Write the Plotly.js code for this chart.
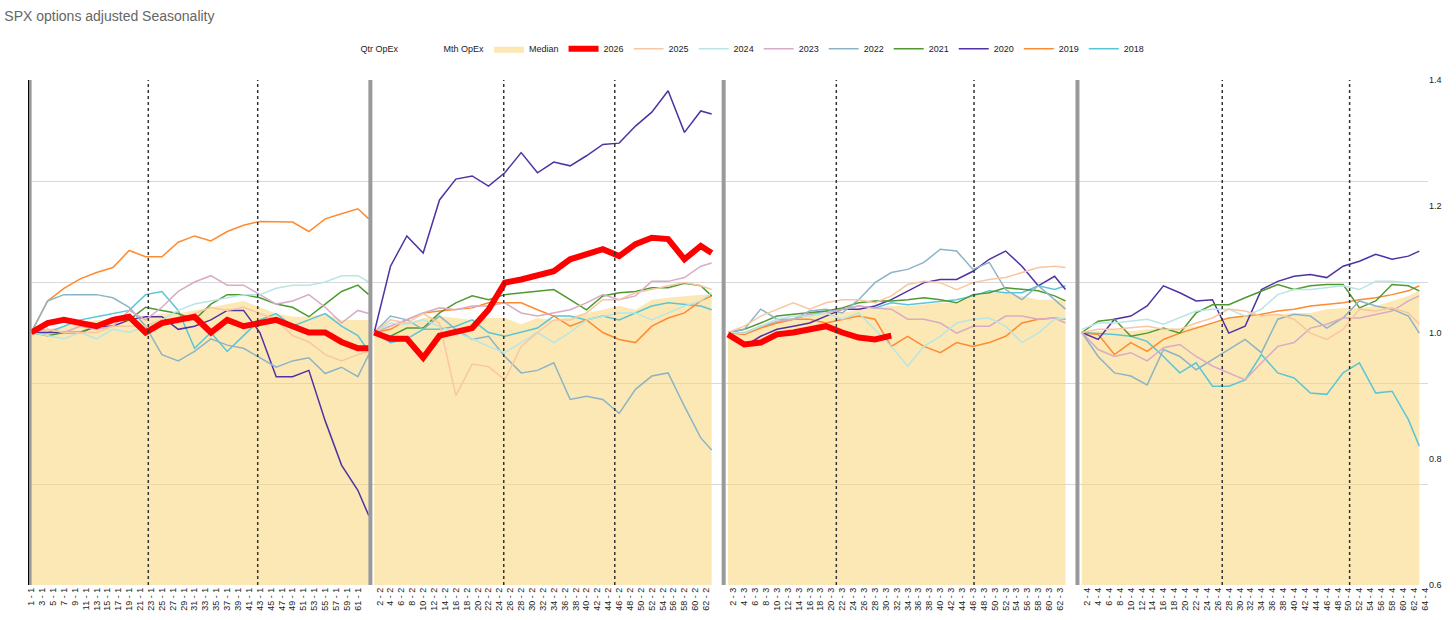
<!DOCTYPE html>
<html>
<head>
<meta charset="utf-8">
<script src="https://cdn.plot.ly/plotly-3.0.1.min.js"></script>
<style>body{margin:0;background:#fff}#chart{width:1456px;height:620px}</style>
</head>
<body>
<div id="chart"></div>
<script>
// sampled trading days inside each quarter
const days = [1,4,7,10,13,16,19,22,25,28,31,34,37,40,43,46,49,52,55,58,61,63];
const qOffset = [0, 63, 128, 193];
const qSuffix = ['1', '2', '3', '4'];

const median = [
  [1.0,1.005,1.01,1.015,1.02,1.02,1.025,1.025,1.03,1.03,1.035,1.04,1.045,1.05,1.04,1.03,1.025,1.025,1.03,1.02,1.02,1.02],
  [1.0,1.01,1.015,1.023,1.026,1.023,1.02,1.023,1.023,1.013,1.023,1.02,1.026,1.031,1.036,1.042,1.036,1.052,1.055,1.058,1.06,1.06],
  [1.0,1.002,1.01,1.018,1.023,1.026,1.031,1.031,1.037,1.039,1.042,1.042,1.044,1.047,1.047,1.058,1.063,1.063,1.058,1.052,1.052,1.052],
  [1.0,1.002,1.005,1.002,1.005,1.005,1.005,1.01,1.013,1.021,1.026,1.029,1.029,1.031,1.031,1.037,1.039,1.039,1.042,1.05,1.058,1.066]
];
const y2026 = [
  [1.0,1.015,1.02,1.015,1.01,1.02,1.025,1.0,1.015,1.02,1.025,1.0,1.02,1.01,1.015,1.02,1.01,1.0,1.0,0.985,0.975,0.975],
  [1.0,0.99,0.99,0.96,0.995,1.0,1.007,1.036,1.079,1.084,1.09,1.097,1.116,1.124,1.132,1.121,1.14,1.15,1.148,1.116,1.137,1.126],
  [0.997,0.981,0.984,0.997,1.0,1.005,1.01,1.0,0.992,0.989,0.995],
  []
];
const y2025 = [
  [1.0,1.005,1.0,1.0,1.0,1.01,1.01,1.01,1.02,1.015,1.03,1.04,1.035,1.04,1.03,1.02,0.995,0.985,0.965,0.955,0.965,0.97],
  [1.0,1.02,1.015,1.03,1.015,0.90,0.95,0.946,0.925,0.978,1.0,1.02,1.02,1.031,1.052,1.052,1.063,1.068,1.074,1.079,1.074,1.068],
  [1.0,1.01,1.026,1.037,1.047,1.037,1.047,1.052,1.052,1.047,1.058,1.076,1.081,1.079,1.068,1.079,1.084,1.087,1.095,1.103,1.105,1.103],
  [1.0,1.005,1.005,1.007,1.01,1.005,1.005,1.015,1.023,1.037,1.034,1.026,1.029,1.021,0.999,0.989,1.005,1.037,1.034,1.039,1.031,1.013]
];
const y2024 = [
  [1.0,0.995,0.99,1.0,0.99,1.005,1.0,1.01,1.02,1.035,1.045,1.05,1.055,1.06,1.06,1.07,1.075,1.075,1.08,1.09,1.09,1.08],
  [1.0,1.015,1.013,1.02,1.01,1.0,0.99,0.978,0.968,0.984,1.0,0.984,1.0,1.02,1.026,1.031,1.031,1.02,1.031,1.042,1.05,1.063],
  [1.0,0.999,1.01,1.021,1.026,1.026,1.031,1.021,1.031,1.005,0.978,0.947,0.978,0.994,1.015,1.021,1.023,1.01,0.984,0.999,1.021,1.023],
  [1.005,1.015,1.015,1.018,1.021,1.013,1.023,1.034,1.037,1.037,1.026,1.037,1.06,1.068,1.068,1.071,1.074,1.068,1.081,1.081,1.079,1.079]
];
const y2023 = [
  [1.0,1.005,1.0,1.01,1.005,1.01,1.035,1.02,1.04,1.065,1.08,1.09,1.075,1.075,1.06,1.045,1.05,1.06,1.04,1.015,1.035,1.03],
  [1.0,1.01,1.02,1.031,1.039,1.036,1.042,1.042,1.047,1.031,1.026,1.031,1.036,1.047,1.06,1.052,1.058,1.081,1.081,1.087,1.105,1.11],
  [1.0,0.999,1.01,1.018,1.021,1.029,1.031,1.037,1.042,1.039,1.037,1.021,1.021,1.015,0.999,1.01,1.01,1.026,1.026,1.021,1.023,1.015],
  [1.0,0.973,0.962,0.968,0.955,0.976,0.981,0.962,0.947,0.936,0.925,0.952,0.978,0.984,1.007,1.013,1.023,1.023,1.029,1.034,1.05,1.058]
];
const y2022 = [
  [1.0,1.05,1.06,1.06,1.06,1.055,1.04,1.01,0.965,0.955,0.97,0.99,0.98,0.975,0.96,0.945,0.955,0.96,0.935,0.945,0.93,0.965],
  [1.0,1.026,1.02,1.005,1.026,1.005,0.989,0.994,0.962,0.936,0.94,0.952,0.894,0.899,0.894,0.872,0.91,0.931,0.936,0.883,0.833,0.814],
  [1.0,1.005,1.037,1.021,1.021,1.034,1.037,1.031,1.052,1.079,1.095,1.1,1.111,1.132,1.129,1.1,1.111,1.068,1.052,1.074,1.052,1.037],
  [1.0,0.962,0.936,0.931,0.917,0.973,0.962,0.941,0.957,0.973,0.989,0.968,1.021,1.029,1.026,1.007,1.023,1.05,1.042,1.037,1.026,0.999]
];
const y2021 = [
  [1.0,0.995,1.0,1.0,1.01,1.02,1.02,1.04,1.035,1.03,1.02,1.045,1.06,1.06,1.055,1.045,1.04,1.025,1.045,1.065,1.075,1.06],
  [1.0,0.994,1.007,1.007,1.031,1.047,1.058,1.052,1.06,1.063,1.065,1.068,1.052,1.036,1.058,1.063,1.065,1.071,1.071,1.078,1.074,1.058],
  [1.0,1.005,1.015,1.026,1.029,1.031,1.034,1.039,1.047,1.05,1.05,1.052,1.055,1.052,1.047,1.06,1.063,1.071,1.068,1.066,1.058,1.05],
  [1.0,1.018,1.021,0.994,0.999,1.007,0.999,1.031,1.044,1.044,1.055,1.066,1.076,1.068,1.074,1.076,1.076,1.039,1.05,1.076,1.074,1.066]
];
const y2020 = [
  [1.0,1.0,1.0,1.0,1.01,1.01,1.02,1.025,1.025,1.005,1.01,1.02,1.035,1.035,1.0,0.93,0.93,0.94,0.86,0.79,0.75,0.71],
  [1.0,1.105,1.153,1.126,1.21,1.243,1.248,1.232,1.253,1.285,1.253,1.27,1.264,1.28,1.298,1.30,1.327,1.349,1.383,1.317,1.351,1.346],
  [0.997,0.978,0.994,1.005,1.01,1.015,1.026,1.037,1.037,1.042,1.052,1.066,1.079,1.084,1.084,1.097,1.116,1.129,1.105,1.074,1.089,1.068],
  [1.0,0.989,1.021,1.026,1.042,1.074,1.063,1.05,1.052,0.999,1.01,1.068,1.081,1.089,1.092,1.087,1.105,1.113,1.124,1.116,1.121,1.129]
];
const y2019 = [
  [1.0,1.05,1.07,1.085,1.095,1.103,1.13,1.12,1.12,1.143,1.153,1.145,1.16,1.17,1.176,1.175,1.175,1.16,1.18,1.188,1.196,1.18],
  [1.0,1.005,1.02,1.031,1.034,1.036,1.039,1.047,1.047,1.047,1.036,1.026,1.01,1.02,1.0,0.989,0.984,1.01,1.023,1.031,1.05,1.058],
  [1.0,0.997,1.007,1.015,1.021,1.021,1.015,1.021,1.026,1.021,0.978,0.994,0.978,0.968,0.984,0.978,0.984,0.994,1.015,1.021,1.023,1.021],
  [1.0,0.997,0.965,0.984,0.97,0.989,0.999,1.007,1.015,1.023,1.026,1.029,1.034,1.037,1.042,1.044,1.047,1.052,1.055,1.06,1.066,1.074]
];
const y2018 = [
  [1.0,1.0,1.01,1.02,1.025,1.03,1.035,1.06,1.065,1.035,0.975,1.0,0.97,0.995,1.02,1.03,1.01,1.02,1.03,1.01,0.995,0.97],
  [1.0,0.984,0.99,1.005,1.005,1.01,1.02,1.0,0.994,1.0,1.007,1.026,1.026,1.02,1.026,1.02,1.031,1.042,1.047,1.044,1.042,1.036],
  [1.0,0.999,1.01,1.015,1.021,1.029,1.034,1.037,1.042,1.039,1.047,1.044,1.047,1.05,1.052,1.058,1.066,1.063,1.063,1.074,1.068,1.074],
  [1.0,0.999,0.997,0.994,0.986,0.962,0.936,0.952,0.915,0.915,0.925,0.965,0.936,0.928,0.904,0.902,0.936,0.952,0.904,0.907,0.862,0.82]
];

const years = [
  {name: '2026', data: y2026, color: '#ff0000', width: 6},
  {name: '2025', data: y2025, color: '#f9c6a2', width: 1.5},
  {name: '2024', data: y2024, color: '#b9e5e4', width: 1.5},
  {name: '2023', data: y2023, color: '#d8abc6', width: 1.5},
  {name: '2022', data: y2022, color: '#8db4c6', width: 1.5},
  {name: '2021', data: y2021, color: '#4e9a2f', width: 1.5},
  {name: '2020', data: y2020, color: '#4f32a3', width: 1.5},
  {name: '2019', data: y2019, color: '#ff8a30', width: 1.5},
  {name: '2018', data: y2018, color: '#58c6d8', width: 1.5},
];

function joinQuarters(arrs) {
  const x = [], y = [];
  arrs.forEach((vals, q) => {
    vals.forEach((v, i) => { x.push(qOffset[q] + days[i]); y.push(v); });
    x.push(null); y.push(null);
  });
  return {x, y};
}

const traces = [];
const ghost = {x: [null], y: [null], mode: 'lines', line: {color: 'rgba(0,0,0,0)'}};
traces.push(Object.assign({name: 'Qtr OpEx'}, ghost));
traces.push(Object.assign({name: 'Mth OpEx'}, ghost));

median.forEach((vals, q) => {
  traces.push({
    x: vals.map((v, i) => qOffset[q] + days[i]), y: vals,
    name: 'Median', legendgroup: 'median', showlegend: q === 0,
    mode: 'lines', line: {width: 0, color: 'rgba(250,214,118,0.55)'},
    fill: 'tozeroy', fillcolor: 'rgba(250,214,118,0.55)'
  });
});

// draw older years first so 2026 is on top
years.slice().reverse().forEach(yr => {
  const s = joinQuarters(yr.data);
  traces.push({x: s.x, y: s.y, name: yr.name, mode: 'lines',
    line: {color: yr.color, width: yr.width}, connectgaps: false});
});

// legend order
const legendRank = {'Qtr OpEx': 1, 'Mth OpEx': 2, 'Median': 3};
years.forEach((yr, i) => legendRank[yr.name] = 4 + i);
traces.forEach(t => t.legendrank = legendRank[t.name]);

// tick labels
const tickvals = [], ticktext = [];
[[1, 61], [2, 62], [2, 62], [2, 64]].forEach(([a, b], q) => {
  for (let d = a; d <= b; d += 2) {
    tickvals.push(qOffset[q] + d);
    ticktext.push(d + ' - ' + qSuffix[q]);
  }
});

const shapes = [];
[0.7, 63.3, 128.2, 193.2].forEach((xv, i) => {
  shapes.push({type: 'line', xref: 'x', yref: 'paper', x0: xv, x1: xv, y0: 0, y1: 1,
    line: {color: '#9a9a9a', width: 4}, layer: 'above'});
});
shapes.push({type: 'line', xref: 'x', yref: 'paper', x0: 0.5, x1: 0.5, y0: 0, y1: 1,
  line: {color: '#000', width: 1}, layer: 'above'});
[22.5, 42.6, 87.8, 108.2, 148.9, 174.2, 219.8, 243.2].forEach(xv => {
  shapes.push({type: 'line', xref: 'x', yref: 'paper', x0: xv, x1: xv, y0: 0, y1: 1,
    line: {color: '#333', width: 1.5, dash: 'dot'}, layer: 'above'});
});

const layout = {
  width: 1456, height: 620,
  margin: {l: 28, r: 28, t: 80, b: 35},
  paper_bgcolor: '#fff', plot_bgcolor: '#fff',
  font: {family: 'Liberation Sans, Arial, sans-serif', size: 9, color: '#222'},
  title: {text: 'SPX options adjusted Seasonality', xref: 'container', x: 0.003, xanchor: 'left',
    yref: 'container', y: 0.974, yanchor: 'middle', font: {size: 14, color: '#666'}},
  showlegend: true,
  legend: {orientation: 'h', x: 0.505, xanchor: 'center', y: 1.062, yanchor: 'middle',
    font: {size: 9, color: '#222'}, traceorder: 'normal'},
  xaxis: {range: [0.4, 257.6], tickvals: tickvals, ticktext: ticktext, tickangle: -90,
    showgrid: false, zeroline: false, ticks: '', tickfont: {size: 9, color: '#222'}},
  yaxis: {range: [0.6, 1.4], tickvals: [0.6, 0.76, 0.92, 1.08, 1.24, 1.4],
    showticklabels: false, gridcolor: '#d9d9d9', zeroline: false},
  yaxis2: {range: [0.6, 1.4], overlaying: 'y', side: 'right', dtick: 0.2, tickformat: '.1f',
    showgrid: false, zeroline: false, tickfont: {size: 9, color: '#222'}},
  shapes: shapes
};

// keep the right axis drawn
traces.push({x: [null], y: [null], yaxis: 'y2', showlegend: false, hoverinfo: 'skip'});

Plotly.newPlot('chart', traces, layout, {displayModeBar: false});
</script>
</body>
</html>
